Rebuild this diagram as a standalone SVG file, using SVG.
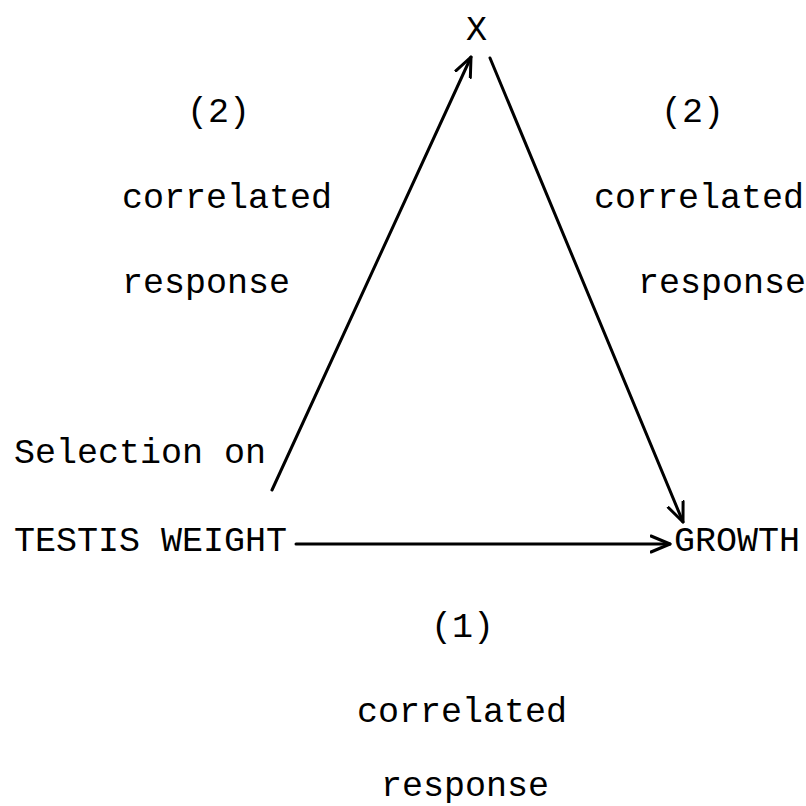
<svg xmlns="http://www.w3.org/2000/svg" width="806" height="806" viewBox="0 0 806 806">
<defs>
<marker id="ah" viewBox="-20 -10 22 20" refX="0" refY="0" markerWidth="22" markerHeight="20" markerUnits="userSpaceOnUse" orient="auto">
<path d="M-19,-8 L0,0 L-19,8" fill="none" stroke="#000" stroke-width="3" stroke-linecap="round" stroke-linejoin="round"/>
</marker>
<style>
text{font-family:"Liberation Mono","Courier New",monospace;font-size:35px;fill:#000;}
.ln{stroke:#000;stroke-width:3;fill:none;stroke-linecap:round;marker-end:url(#ah);}
</style>
</defs>
<rect width="806" height="806" fill="#fff"/>
<g id="connectors">
<line class="ln" x1="272" y1="490" x2="471" y2="57"/>
<line class="ln" x1="490" y1="58" x2="683" y2="522"/>
<line class="ln" x1="296" y1="544" x2="670" y2="544"/>
</g>
<g id="node-x"><text x="466" y="40">X</text></g>
<g id="node-testis">
<text x="14" y="463">Selection on</text>
<text x="14" y="551">TESTIS WEIGHT</text>
</g>
<g id="node-growth"><text x="674" y="551">GROWTH</text></g>
<g id="label-left">
<text x="187" y="122">(2)</text>
<text x="122" y="208">correlated</text>
<text x="122" y="293">response</text>
</g>
<g id="label-right">
<text x="661" y="122">(2)</text>
<text x="594" y="208">correlated</text>
<text x="638" y="293">response</text>
</g>
<g id="label-bottom">
<text x="431" y="637">(1)</text>
<text x="357" y="722">correlated</text>
<text x="381" y="796">response</text>
</g>
</svg>
